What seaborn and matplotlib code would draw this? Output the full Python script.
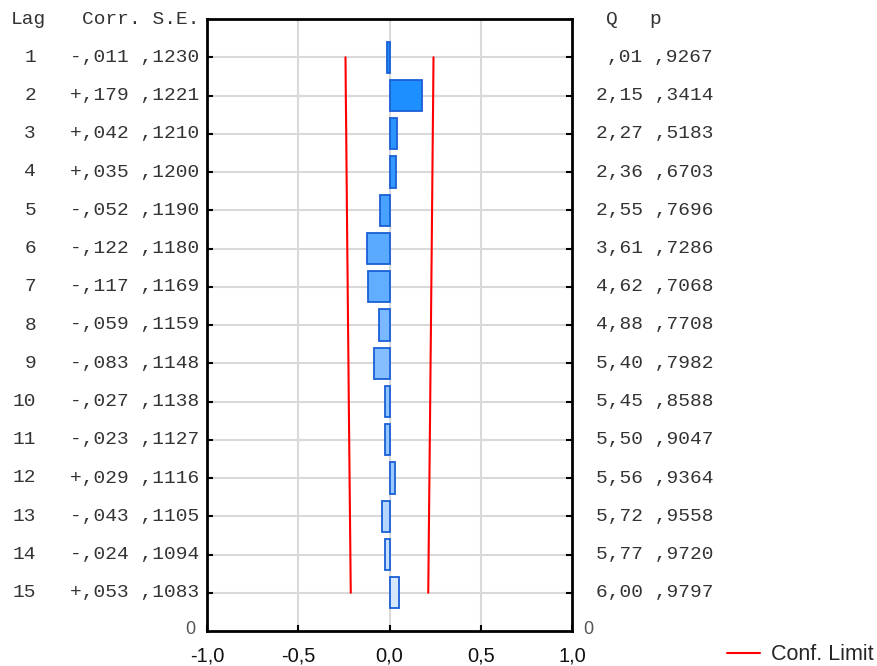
import matplotlib
matplotlib.use("Agg")
import matplotlib.pyplot as plt
from matplotlib.lines import Line2D
import numpy as np
import pandas as pd
import seaborn as sns

# ---- data ----
lags = [1, 2, 3, 4, 5, 6, 7, 8, 9, 10, 11, 12, 13, 14, 15]
corr = [-0.011, 0.179, 0.042, 0.035, -0.052, -0.122, -0.117, -0.059, -0.083,
        -0.027, -0.023, 0.029, -0.043, -0.024, 0.053]
se = [0.1230, 0.1221, 0.1210, 0.1200, 0.1190, 0.1180, 0.1169, 0.1159, 0.1148,
      0.1138, 0.1127, 0.1116, 0.1105, 0.1094, 0.1083]
corr_txt = ["-,011", "+,179", "+,042", "+,035", "-,052", "-,122", "-,117", "-,059",
            "-,083", "-,027", "-,023", "+,029", "-,043", "-,024", "+,053"]
se_txt = [",1230", ",1221", ",1210", ",1200", ",1190", ",1180", ",1169", ",1159",
          ",1148", ",1138", ",1127", ",1116", ",1105", ",1094", ",1083"]
q_txt = [",01", "2,15", "2,27", "2,36", "2,55", "3,61", "4,62", "4,88", "5,40",
         "5,45", "5,50", "5,56", "5,72", "5,77", "6,00"]
p_txt = [",9267", ",3414", ",5183", ",6703", ",7696", ",7286", ",7068", ",7708",
         ",7982", ",8588", ",9047", ",9364", ",9558", ",9720", ",9797"]
xticks = [-1.0, -0.5, 0.0, 0.5, 1.0]
xtick_labels = ["-1,0", "-0,5", "0,0", "0,5", "1,0"]
bar_colors = ["#1f8fff", "#1e8fff", "#2a94ff", "#3399ff", "#4aa2ff", "#5aaaff",
              "#61adff", "#7ab9ff", "#84beff", "#8ec3ff", "#94c6ff", "#9ccaff",
              "#b5d7ff", "#c3deff", "#d5e8ff"]

conf = [1.96 * s for s in se]

df = pd.DataFrame({"lag": lags, "corr": corr})

sns.set_style("white")
plt.rcParams["font.family"] = ["Liberation Sans", "DejaVu Sans"]

fig = plt.figure(figsize=(8.77, 6.66), dpi=100)
ax = fig.add_axes([207 / 877, 35 / 666, 365 / 877, 612 / 666])

# grid
for xv in [-0.5, 0.0, 0.5]:
    ax.axvline(xv, color="#d9d9d9", lw=1.5, zorder=0)
for yv in lags:
    ax.axhline(yv, color="#d9d9d9", lw=1.5, zorder=0)

sns.barplot(data=df, x="corr", y="lag", orient="h", native_scale=True,
            hue="lag", palette=dict(zip(lags, bar_colors)), dodge=False,
            legend=False, width=0.82, saturation=1,
            edgecolor="#1a5fd6", linewidth=1.3, ax=ax, zorder=2)

ax.plot([-c for c in conf], lags, color="#ff0000", lw=1.5, zorder=3)
ax.plot(conf, lags, color="#ff0000", lw=1.5, zorder=3)

ax.set_xlim(-1, 1)
ax.set_ylim(16, 0)
ax.set_xticks(xticks)
ax.set_xticklabels(xtick_labels, fontsize=14.5, color="#111111")
ax.set_yticks(lags)
ax.set_yticklabels([])
ax.set_xlabel("")
ax.set_ylabel("")
ax.tick_params(axis="y", direction="in", length=4, width=1.5, left=True, right=True,
               color="black")
ax.tick_params(axis="x", direction="in", length=4, width=1.5, bottom=True,
               pad=11, color="black")
for sp in ax.spines.values():
    sp.set_visible(True)
    sp.set_color("black")
    sp.set_linewidth(2)

# side tables
mono = dict(family="Liberation Mono", fontsize=14, color="#333333", va="center")
trans_l = ax.get_yaxis_transform()  # x axes, y data
def fx(px):
    return (px - 207) / 365.0

ax.text(fx(11), 0, "Lag", ha="left", transform=trans_l, clip_on=False, **mono)
ax.text(fx(199), 0, "Corr. S.E.", ha="right", transform=trans_l, clip_on=False, **mono)
ax.text(fx(612), 0, "Q", ha="center", transform=trans_l, clip_on=False, **mono)
ax.text(fx(655), 0, "p", ha="center", transform=trans_l, clip_on=False, **mono)
for i, lag in enumerate(lags):
    ax.text(fx(36), lag, f"{lag}", ha="right", transform=trans_l, clip_on=False, **mono)
    ax.text(fx(199), lag, f"{corr_txt[i]} {se_txt[i]}", ha="right",
            transform=trans_l, clip_on=False, **mono)
    ax.text(fx(713), lag, f"{q_txt[i]} {p_txt[i]}", ha="right",
            transform=trans_l, clip_on=False, **mono)

ax.text(fx(195), 15.95, "0", ha="right", va="center", transform=trans_l, clip_on=False,
        fontsize=13, color="#555555")
ax.text(fx(583), 15.95, "0", ha="left", va="center", transform=trans_l, clip_on=False,
        fontsize=13, color="#555555")

fig.legend(handles=[Line2D([0], [0], color="#ff0000", lw=1.5)], labels=["Conf. Limit"],
           loc="center left", bbox_to_anchor=(727 / 877, 1 - 655 / 666),
           frameon=False, fontsize=15.5, handlelength=1.55, handletextpad=0.5,
           borderaxespad=0, borderpad=0)

fig.savefig("out.png", dpi=100)
